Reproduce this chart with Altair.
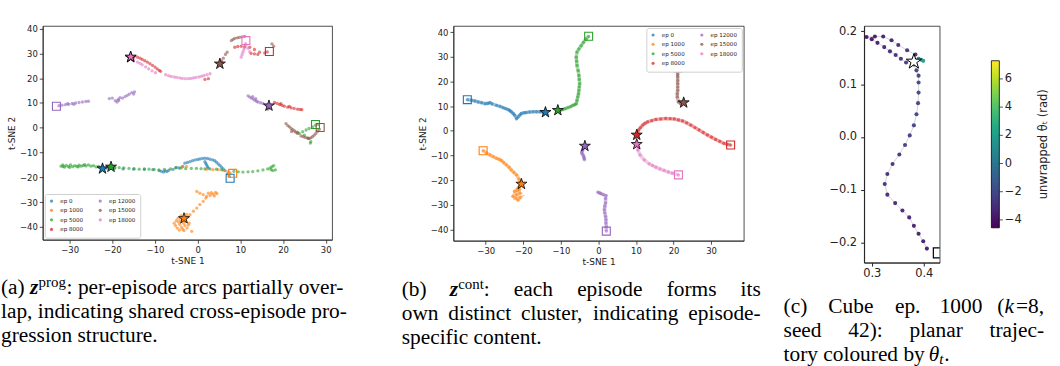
import altair as alt
import pandas as pd

# ---------------------------------------------------------------- data
EPISODES = ["ep 0", "ep 1000", "ep 5000", "ep 8000", "ep 12000", "ep 15000", "ep 18000"]

a_ep0 = [(-22.3, -16.5), (-21.3, -16.3), (-19.5, -16.4), (-17.5, -16.6), (-15.0, -16.7), (-12.5, -16.8),
         (-10.5, -16.9), (-9.0, -17.3), (-8.5, -17.6), (-8.0, -17.9), (-7.6, -17.4), (-7.2, -17.7),
         (-6.8, -17.2), (-5.8, -16.8), (-5.0, -16.0), (-4.4, -16.2), (-3.5, -15.6), (-3.0, -14.3),
         (-2.4, -14.0), (-1.8, -13.7), (-1.2, -13.3), (-0.6, -13.0), (0.0, -12.8), (0.5, -12.6),
         (1.1, -12.4), (1.7, -12.3), (2.3, -12.4), (2.9, -12.7), (3.5, -13.0), (4.0, -13.3),
         (4.4, -13.9), (4.8, -14.6), (5.2, -15.2), (5.6, -15.9), (6.0, -16.6), (6.4, -17.3),
         (7.0, -18.6), (7.4, -19.6), (1.7, -13.7), (1.9, -14.4), (2.1, -15.0), (2.3, -15.7), (2.5, -16.3)]
a_ep1000 = [(-5.5, -38.5), (-5.2, -39.5), (-4.8, -40.5), (-4.5, -38.0), (-4.2, -39.0), (-4.0, -37.2),
            (-3.8, -40.2), (-3.5, -41.0), (-3.3, -38.5), (-3.0, -39.5), (-2.8, -37.8), (-2.5, -40.5),
            (-2.3, -36.0), (-2.0, -38.5), (-4.6, -36.5), (-3.9, -35.5), (-5.0, -37.5), (-2.6, -35.0),
            (-3.2, -41.5), (-1.4, -41.8), (-4.3, -41.3), (-2.2, -39.3),
            (-1.8, -35.1), (-1.0, -33.7), (-0.2, -32.4), (0.5, -31.0), (1.3, -29.7), (1.9, -28.4),
            (2.1, -27.7), (2.9, -27.3), (3.6, -26.8), (4.2, -26.1), (4.5, -26.6), (3.9, -27.5),
            (2.5, -26.4), (1.3, -27.0), (0.5, -26.4), (-0.2, -25.7), (3.2, -26.2),
            (-3.7, -15.9), (-2.6, -15.6), (2.1, -16.7), (3.6, -16.9), (4.8, -16.9), (6.0, -17.2),
            (7.1, -17.7), (7.6, -18.2)]
a_ep5000 = [(-32.0, -15.5), (-31.6, -15.0), (-31.2, -15.9), (-30.8, -15.2), (-30.3, -15.6), (-29.8, -15.0),
            (-29.3, -15.7), (-28.8, -15.3), (-28.3, -15.6), (-27.8, -15.1), (-27.3, -15.5), (-26.8, -15.2),
            (-26.2, -15.4), (-25.6, -15.0), (-25.0, -15.5), (-24.4, -15.3), (-23.8, -15.8), (-23.2, -15.6),
            (-22.7, -16.0), (-31.5, -15.6), (-30.0, -16.0), (-28.0, -15.8), (-26.5, -14.9),
            (-20.3, -15.8), (-19.4, -16.0), (-18.4, -16.1), (-17.3, -16.2), (-16.1, -16.4), (-14.9, -16.5),
            (-13.7, -16.7), (-12.5, -16.6), (-11.4, -16.7), (-10.2, -16.8), (-9.1, -17.0), (-7.8, -16.8),
            (-6.4, -16.6), (-5.2, -16.2), (-4.0, -16.3), (-2.8, -16.5), (-1.5, -16.4), (-0.3, -16.4),
            (0.8, -16.5), (1.7, -16.6), (2.9, -16.6), (4.4, -16.7), (5.6, -16.9),
            (8.5, -17.6), (9.5, -17.8), (10.6, -17.9), (11.8, -17.8), (12.9, -17.7), (14.1, -17.4),
            (15.3, -17.0), (16.4, -16.6), (17.0, -16.2), (17.4, -15.7), (17.8, -15.3), (17.6, -17.3),
            (18.2, -17.0), (17.2, -16.9),
            (23.8, -2.3), (24.6, -1.6), (25.4, -0.9), (26.1, -0.3), (26.9, 0.4), (27.6, 1.0), (28.3, 1.4),
            (25.0, -3.0), (25.9, -4.3), (26.5, -5.6), (26.4, -6.2), (23.4, -1.8)]
a_ep8000 = [(-15.0, 28.6), (-14.1, 28.5), (-13.5, 28.1), (-13.0, 27.6), (-12.4, 27.1), (-11.8, 26.5),
            (-11.2, 25.9), (-10.6, 25.2), (-10.0, 24.5), (-9.5, 23.8), (-9.0, 23.2), (-8.7, 22.8),
            (1.7, 19.5), (2.5, 19.8),
            (8.7, 32.5), (9.4, 32.8), (10.2, 32.9), (11.0, 32.7), (12.2, 32.5), (13.3, 31.6), (14.5, 30.5),
            (15.7, 30.2), (16.3, 30.6), (12.5, 30.0), (13.3, 29.8), (14.1, 29.6),
            (18.0, 10.2), (18.6, 9.8), (19.2, 9.4), (19.8, 9.0), (20.3, 8.7), (21.1, 8.3), (21.9, 8.0),
            (22.6, 7.8), (23.4, 7.5), (24.0, 7.4), (24.4, 7.3), (19.5, 9.7), (21.5, 8.6)]
a_ep12000 = [(-32.5, 8.9), (-31.8, 9.1), (-31.0, 9.3), (-30.2, 9.5), (-29.4, 9.8), (-28.6, 10.0),
             (-27.8, 10.2), (-27.0, 10.4), (-26.2, 10.6), (-25.6, 10.7), (-30.5, 9.7), (-29.0, 9.5),
             (-20.7, 11.8), (-20.0, 12.0), (-19.3, 10.9), (-18.9, 10.4), (-18.6, 11.5), (-18.2, 12.2),
             (-17.6, 12.0), (-17.0, 12.6), (-16.5, 13.1), (-16.0, 13.6), (-15.4, 14.2), (-14.8, 14.5),
             (-15.0, 13.6), (-18.5, 11.0),
             (11.8, 12.9), (12.2, 12.4), (12.6, 12.0), (13.0, 11.6), (13.4, 11.1), (13.8, 10.7),
             (14.1, 10.4), (14.7, 10.1), (15.3, 9.8), (16.1, 9.1), (12.9, 12.6), (13.6, 11.8)]
a_ep15000 = [(5.6, 27.0), (6.0, 28.1), (6.5, 29.6), (6.9, 30.5),
             (7.9, 35.2), (8.3, 35.7), (8.7, 36.1), (9.3, 36.3), (9.8, 36.5), (10.4, 36.7), (11.0, 36.9),
             (17.4, 33.9), (17.8, 32.9), (16.4, 7.5), (16.8, 8.0),
             (20.7, 1.7), (21.1, 0.9), (21.5, 0.4), (21.9, -0.3), (22.3, -0.8), (22.7, -1.3), (23.0, -1.8),
             (23.4, -2.3), (24.2, -3.3), (24.7, -3.6), (25.2, -3.9), (25.7, -4.1), (26.1, -4.3),
             (26.5, -4.1), (26.9, -3.6), (27.3, -3.0), (27.7, -2.3), (28.1, -1.4), (28.5, -0.6), (22.0, -1.5)]
a_ep18000 = [(-15.0, 27.6), (-14.1, 26.5), (-13.5, 26.0), (-13.0, 25.4), (-12.2, 24.6), (-11.5, 23.8),
             (-10.7, 23.0), (-9.9, 22.2), (-7.5, 21.4), (-6.8, 21.0), (-6.2, 20.7), (-5.5, 20.5),
             (-4.9, 20.3), (-4.2, 20.1), (-3.6, 19.9), (-2.9, 19.8), (-2.2, 19.8), (-1.6, 19.9),
             (-1.0, 20.1), (-0.4, 20.3), (0.3, 20.5), (0.9, 20.8), (1.5, 21.1), (2.2, 21.4), (2.9, 21.8),
             (11.0, 32.5), (10.8, 31.5), (10.6, 30.5), (10.4, 29.5), (10.2, 28.5), (11.2, 34.0),
             (11.8, 32.1), (12.2, 30.7), (11.3, 33.3)]
a_points = {"ep 0": a_ep0, "ep 1000": a_ep1000, "ep 5000": a_ep5000, "ep 8000": a_ep8000,
            "ep 12000": a_ep12000, "ep 15000": a_ep15000, "ep 18000": a_ep18000}
a_star = {"ep 0": (-22.3, -16.5), "ep 1000": (-3.2, -36.6), "ep 5000": (-20.3, -15.8),
          "ep 8000": (-15.7, 28.4), "ep 12000": (16.7, 8.9), "ep 15000": (5.2, 25.8),
          "ep 18000": (-15.7, 28.6)}
a_square = {"ep 0": (7.6, -20.4), "ep 1000": (8.2, -18.4), "ep 5000": (27.6, 1.3),
            "ep 8000": (16.8, 30.8), "ep 12000": (-33.1, 8.7), "ep 15000": (28.7, 0.1),
            "ep 18000": (11.3, 35.2)}

b_ep0 = [(-34.9, 12.6), (-33.8, 12.4), (-32.9, 12.1), (-32.0, 11.7), (-31.1, 11.4), (-30.2, 11.0),
         (-29.5, 11.1), (-28.9, 11.4), (-28.3, 10.9), (-27.1, 10.3), (-26.2, 9.9), (-25.4, 9.4),
         (-24.7, 9.0), (-24.0, 8.6), (-23.6, 8.2), (-23.2, 7.7), (-22.7, 7.0), (-22.3, 6.3),
         (-21.8, 5.0), (-21.4, 5.6), (-20.9, 6.4), (-20.5, 7.0), (-19.8, 7.3), (-19.2, 7.4),
         (-18.3, 7.6), (-17.4, 7.7), (-16.5, 7.7), (-15.6, 7.7), (-14.8, 7.6), (-14.1, 7.5)]
b_ep1000 = [(-30.7, -8.1), (-29.8, -9.0), (-28.9, -9.8), (-28.0, -10.5), (-27.1, -11.2), (-26.4, -11.6),
            (-25.8, -12.1), (-25.2, -12.9), (-24.5, -13.8), (-23.8, -14.8), (-23.2, -15.9), (-22.5, -16.9),
            (-21.8, -17.9), (-21.2, -19.5), (-20.8, -20.6), (-20.5, -21.6), (-21.0, -22.5), (-21.4, -23.3),
            (-22.3, -24.6), (-21.8, -25.9), (-20.9, -25.3), (-21.6, -24.2), (-22.7, -26.6), (-21.4, -28.0),
            (-20.8, -27.0), (-22.0, -27.3), (-21.0, -23.8)]
b_ep5000 = [(-10.8, 8.3), (-10.1, 8.4), (-9.5, 8.6), (-8.8, 9.0), (-8.1, 9.4), (-7.4, 9.8), (-6.8, 10.3),
            (-6.3, 10.6), (-5.9, 11.0), (-5.7, 12.3), (-5.5, 13.7), (-5.3, 15.0), (-5.2, 16.4),
            (-5.1, 17.8), (-5.0, 19.1), (-5.1, 20.8), (-5.2, 22.4), (-5.4, 24.4), (-5.7, 26.5),
            (-5.8, 28.2), (-5.9, 29.8), (-5.7, 31.9), (-5.2, 33.2), (-4.6, 34.5), (-4.0, 35.8),
            (-3.3, 37.2), (-2.6, 38.3)]
b_ep8000 = [(10.2, -1.7), (10.7, 0.3), (11.2, 1.3), (11.8, 2.3), (12.4, 3.0), (13.1, 3.6), (14.2, 4.1),
            (15.3, 4.6), (16.6, 4.8), (17.9, 5.0), (19.1, 4.9), (20.2, 4.8), (21.3, 4.4), (22.4, 4.0),
            (23.5, 3.2), (24.6, 2.3), (25.7, 1.3), (26.8, 0.3), (27.9, -0.7), (29.0, -1.7), (30.1, -2.6),
            (31.2, -3.5), (32.3, -4.3), (33.4, -5.1), (34.3, -5.5), (35.2, -5.8)]
b_ep12000_head = [(-3.6, -6.2), (-4.0, -7.0), (-4.2, -7.8), (-4.4, -8.5), (-4.4, -9.1), (-4.1, -9.8),
                  (-3.9, -10.5), (-3.8, -11.2), (-3.7, -11.8)]
b_ep12000_tail = [(-0.2, -24.9), (0.3, -25.2), (0.7, -25.5), (1.3, -25.9), (2.0, -26.3), (1.9, -27.5),
                  (1.9, -29.3), (1.7, -30.6), (1.6, -32.0), (1.7, -33.3), (1.9, -34.7), (2.0, -36.0),
                  (2.0, -37.4), (2.1, -39.0), (2.1, -40.7)]
b_ep15000 = [(21.1, 25.5), (21.1, 23.8), (21.1, 22.8), (21.1, 21.8), (21.1, 20.4), (21.1, 19.1),
             (21.1, 17.7), (21.1, 16.4), (21.0, 15.0), (21.0, 13.7), (21.3, 11.7), (21.9, 11.0), (22.7, 11.4)]
b_ep18000 = [(10.2, -5.5), (10.5, -7.8), (11.1, -9.8), (12.2, -11.8), (13.5, -13.4), (14.4, -14.1),
             (15.3, -14.8), (16.4, -15.5), (17.5, -16.1), (18.6, -16.7), (19.7, -17.2), (21.3, -17.9)]
b_points = {("ep 0", 0): b_ep0, ("ep 1000", 0): b_ep1000, ("ep 5000", 0): b_ep5000,
            ("ep 8000", 0): b_ep8000, ("ep 12000", 0): b_ep12000_head, ("ep 12000", 1): b_ep12000_tail,
            ("ep 15000", 0): b_ep15000, ("ep 18000", 0): b_ep18000}
b_star = {"ep 0": (-14.1, 7.5), "ep 1000": (-20.5, -21.6), "ep 5000": (-10.8, 8.3),
          "ep 8000": (10.2, -1.7), "ep 12000": (-3.6, -6.2), "ep 15000": (22.7, 11.4),
          "ep 18000": (10.2, -5.5)}
b_square = {"ep 0": (-34.9, 12.6), "ep 1000": (-30.7, -8.1), "ep 5000": (-2.6, 38.3),
            "ep 8000": (35.2, -5.8), "ep 12000": (2.1, -40.7), "ep 15000": (21.1, 25.5),
            "ep 18000": (21.3, -17.9)}

c_x = [0.406, 0.399, 0.390, 0.381, 0.372, 0.359, 0.345, 0.330, 0.325, 0.330, 0.340, 0.353, 0.364,
       0.373, 0.381, 0.386, 0.389, 0.390, 0.390, 0.390, 0.386, 0.381,
       0.384, 0.368, 0.351, 0.338, 0.322, 0.306, 0.290,
       0.300, 0.311, 0.324, 0.335, 0.346, 0.356, 0.366, 0.390, 0.395, 0.399]
c_y = [-0.211, -0.197, -0.183, -0.168, -0.152, -0.139, -0.125, -0.109, -0.089, -0.070, -0.051, -0.033,
       -0.015, 0.003, 0.022, 0.043, 0.064, 0.084, 0.103, 0.116, 0.126, 0.137,
       0.156, 0.164, 0.174, 0.183, 0.190, 0.190, 0.189,
       0.185, 0.178, 0.170, 0.162, 0.155, 0.148, 0.141, 0.148, 0.146, 0.144]
c_theta = [-3.9, -3.8, -3.7, -3.6, -3.5, -3.4, -3.3, -3.2, -3.1, -3.0, -2.9, -2.8, -2.6, -2.5, -2.4,
           -2.3, -2.2, -2.1, -2.1, -2.2, -2.3, -2.5,
           -2.8, -3.0, -3.2, -3.4, -3.6, -3.8, -4.0,
           -3.9, -3.7, -3.5, -3.3, -3.1, -2.9, -2.6, 0.8, 1.6, 2.2]
c_star = (0.381, 0.1425)
c_square = (0.428, -0.219)
CB_DOMAIN = [-4.56, 7.29]
CB_TICKS = [-4, -2, 0, 2, 4, 6]

# ---------------------------------------------------------------- styles / layout
EP_COLORS = ["#1f77b4", "#ff7f0e", "#2ca02c", "#d62728", "#9467bd", "#8c564b", "#e377c2"]
COLOR_OF = dict(zip(EPISODES, EP_COLORS))
VIRIDIS = ["#440154", "#482475", "#414487", "#355f8d", "#2a788e", "#21918c",
           "#22a884", "#44bf70", "#7ad151", "#bddf26", "#fde725"]
STAR = ("M0,-1L0.2245,-0.309L0.951,-0.309L0.363,0.118L0.588,0.809L0,0.382L-0.588,0.809"
        "L-0.363,0.118L-0.951,-0.309L-0.2245,-0.309Z")
SANS = "DejaVu Sans"
SERIF = "Liberation Serif"
INK = "#222222"
CAP_SIZE = 21.5
LINE_Y = [288, 312, 336]
ONE = pd.DataFrame({"k": [1]})
C_YDOM = [-0.2375, 0.21]
CB_SPAN = [-0.1717, 0.1442]     # colorbar extent expressed in panel (c) y units

CAPTION_A = [("(a)", 0, 0, ""), ("z", 29.2, 0, "bi"), ("prog", 37.8, 0, "sup"),
             (": per-episode arcs partially over-", 66, 0, ""),
             ("lap, indicating shared cross-episode pro-", 0, 1, ""),
             ("gression structure.", 0, 2, "")]
CAPTION_B = [("(b)", 401, 0, ""), ("z", 449.2, 0, "bi"), ("cont", 457.8, 0, "sup"), (":", 483.6, 0, ""),
             ("each", 513.7, 0, ""), ("episode", 577.4, 0, ""), ("forms", 667.4, 0, ""), ("its", 762, 0, "r"),
             ("own", 401, 1, ""), ("distinct", 447.8, 1, ""), ("cluster,", 520.9, 1, ""),
             ("indicating", 593.4, 1, ""), ("episode-", 762, 1, "r"),
             ("specific content.", 401, 2, "")]
CAPTION_C = [("(c)", 783, 0, ""), ("Cube", 828, 0, ""), ("ep.", 895, 0, ""), ("1000", 940, 0, ""),
             ("(", 998, 0, ""), ("k", 1005.2, 0, "it"), ("=8,", 1045, 0, "r"),
             ("seed", 783, 1, ""), ("42):", 848.1, 1, ""), ("planar", 909.6, 1, ""), ("trajec-", 1045, 1, "r"),
             ("tory coloured by", 783, 2, ""), ("θ", 929, 2, "it"), ("t", 939.5, 2, "sub"), (".", 944.5, 2, "")]


def caption_layers(pieces, ox, oy):
    out = []
    for text, x, line, kind in pieces:
        size, style, weight, dy, align = CAP_SIZE, "normal", "normal", 0, "left"
        if kind == "bi":
            style, weight = "italic", "bold"
        elif kind == "it":
            style = "italic"
        elif kind == "sup":
            size, dy = 15, -6
        elif kind == "sub":
            size, dy, style = 15, 4, "italic"
        elif kind == "r":
            align = "right"
        out.append(
            alt.Chart(ONE).mark_text(text=text, align=align, baseline="middle", fontSize=size,
                                     font=SERIF, fontStyle=style, fontWeight=weight, color="black")
            .encode(x=alt.value(x - ox), y=alt.value(LINE_Y[line] + dy - oy))
        )
    return out


def bbox_layer(left, top, w, h, ox, oy):
    # invisible rectangle fixing each panel's footprint inside the row
    return alt.Chart(ONE).mark_rect(opacity=0).encode(
        x=alt.value(left - ox), x2=alt.value(left + w - ox),
        y=alt.value(top - oy), y2=alt.value(top + h - oy))


def tsne_axis(title, values):
    return alt.Axis(title=title, values=values, grid=False, labelFont=SANS, titleFont=SANS,
                    labelFontSize=8.5, titleFontSize=9, titleFontWeight="normal", labelColor=INK,
                    titleColor=INK, tickColor=INK, domainColor=INK, tickSize=3.5, tickWidth=0.8,
                    domainWidth=0.8, labelPadding=2, titlePadding=3)


def tsne_panel(points, stars, squares, xdom, ydom, w, h, legend_orient, origin, region, captions,
               trails=False):
    ox, oy = origin
    rows = []
    for key, pts in points.items():
        ep, seg = key if isinstance(key, tuple) else (key, 0)
        for i, (px, py) in enumerate(pts):
            rows.append({"ep": ep, "key": f"{ep}-{seg}", "i": i, "x": px, "y": py, "col": COLOR_OF[ep]})
    df = pd.DataFrame(rows)
    sdf = pd.DataFrame([{"ep": k, "x": v[0], "y": v[1], "col": COLOR_OF[k]} for k, v in stars.items()])
    qdf = pd.DataFrame([{"ep": k, "x": v[0], "y": v[1], "col": COLOR_OF[k]} for k, v in squares.items()])

    X = alt.X("x:Q", scale=alt.Scale(domain=xdom, nice=False, zero=False),
              axis=tsne_axis("t-SNE 1", [-30, -20, -10, 0, 10, 20, 30]))
    Y = alt.Y("y:Q", scale=alt.Scale(domain=ydom, nice=False, zero=False),
              axis=tsne_axis("t-SNE 2", [-40, -30, -20, -10, 0, 10, 20, 30, 40]))

    legend = alt.Legend(title=None, orient=legend_orient, columns=2, values=EPISODES, offset=2,
                        padding=4, fillColor="white", strokeColor="#d0d0d0", cornerRadius=2,
                        labelFont=SANS, labelFontSize=5.6, labelColor=INK, symbolType="circle",
                        symbolSize=10, symbolStrokeWidth=0, symbolOpacity=0.75, labelOffset=6,
                        columnPadding=14, rowPadding=2.6)
    dots = alt.Chart(df).mark_circle(size=11, opacity=0.6).encode(
        x=X, y=Y, color=alt.Color("ep:N", scale=alt.Scale(domain=EPISODES, range=EP_COLORS), legend=legend))
    sq = alt.Chart(qdf).mark_point(shape="square", filled=False, size=64, strokeWidth=1.1, opacity=1).encode(
        x=X, y=Y, stroke=alt.Stroke("col:N", scale=None))
    st = alt.Chart(sdf).mark_point(shape=STAR, filled=True, size=135, stroke="black", strokeWidth=0.8,
                                   opacity=1).encode(x=X, y=Y, fill=alt.Fill("col:N", scale=None))
    layers = [bbox_layer(region[0], 0, region[1], 366, ox, oy)]
    if trails:
        layers.append(alt.Chart(df).mark_line(strokeWidth=3.6, opacity=0.4).encode(
            x=X, y=Y, stroke=alt.Stroke("col:N", scale=None), detail="key:N", order="i:Q"))
    layers += [dots, sq, st]
    layers += caption_layers(captions, ox, oy)
    return alt.layer(*layers).properties(width=w, height=h)


panel_a = tsne_panel(a_points, a_star, a_square, [-36.3, 31.5], [-45.2, 41.1], 291, 215,
                     "bottom-left", (42, 24), (0, 395), CAPTION_A)
panel_b = tsne_panel(b_points, b_star, b_square, [-38.6, 38.7], [-44.6, 42.5], 292, 216,
                     "top-right", (453, 22), (395, 375), CAPTION_B, trails=True)

# ---- panel (c)
ox, oy = 864, 5
cdf = pd.DataFrame({"x": c_x, "y": c_y, "theta": c_theta, "i": list(range(len(c_x)))})
CX = alt.X("x:Q", scale=alt.Scale(domain=[0.2853, 0.4306], nice=False, zero=False),
           axis=alt.Axis(title=None, values=[0.3, 0.4], format=".1f", grid=False, labelFont=SANS,
                         labelFontSize=11.5, labelColor=INK, tickColor=INK, domainColor=INK,
                         tickSize=3.5, labelPadding=1))
CYS = alt.Scale(domain=C_YDOM, nice=False, zero=False)
CY = alt.Y("y:Q", scale=CYS,
           axis=alt.Axis(title=None, values=[-0.2, -0.1, 0.0, 0.1, 0.2], format=".1f", grid=False,
                         labelFont=SANS, labelFontSize=11.5, labelColor=INK, tickColor=INK,
                         domainColor=INK, tickSize=3.5, labelPadding=4))
c_line = alt.Chart(cdf).mark_line(color="#d4d4d4", strokeWidth=1).encode(x=CX, y=CY, order="i:Q")
c_dots = alt.Chart(cdf).mark_circle(size=17, opacity=0.95).encode(
    x=CX, y=CY, color=alt.Color("theta:Q", scale=alt.Scale(scheme="viridis", domain=CB_DOMAIN), legend=None))
c_sq = alt.Chart(pd.DataFrame({"x": [c_square[0]], "y": [c_square[1]]})).mark_point(
    shape="square", filled=False, size=100, stroke="black", strokeWidth=1.2, opacity=1, clip=True
).encode(x=CX, y=CY)
c_st = alt.Chart(pd.DataFrame({"x": [c_star[0]], "y": [c_star[1]]})).mark_point(
    shape=STAR, filled=True, fill="white", size=260, stroke="black", strokeWidth=1, opacity=1
).encode(x=CX, y=CY)


def cb_to_y(v):
    # place a colorbar value inside the panel-(c) y range occupied by the colorbar
    f = (v - CB_DOMAIN[0]) / (CB_DOMAIN[1] - CB_DOMAIN[0])
    return CB_SPAN[0] + f * (CB_SPAN[1] - CB_SPAN[0])


cb_fill = alt.Gradient(gradient="linear", x1=0, x2=0, y1=1, y2=0,
                       stops=[alt.GradientStop(color=c, offset=i / (len(VIRIDIS) - 1))
                              for i, c in enumerate(VIRIDIS)])
cb_df = pd.DataFrame({"lo": [cb_to_y(CB_DOMAIN[0])], "hi": [cb_to_y(CB_DOMAIN[1])]})
cb_bar = alt.Chart(cb_df).mark_rect(fill=cb_fill, stroke="black", strokeWidth=0.8).encode(
    x=alt.value(128), x2=alt.value(136), y=alt.Y("lo:Q", scale=CYS), y2="hi:Q")
tick_df = pd.DataFrame({"y": [cb_to_y(v) for v in CB_TICKS],
                        "label": [f"{v}".replace("-", "\u2212") for v in CB_TICKS]})
cb_ticks = alt.Chart(tick_df).mark_rule(color=INK, strokeWidth=0.8).encode(
    x=alt.value(136), x2=alt.value(139.5), y=alt.Y("y:Q", scale=CYS))
cb_labels = alt.Chart(tick_df).mark_text(align="left", baseline="middle", font=SANS, fontSize=11.5,
                                         color=INK).encode(
    x=alt.value(141.5), y=alt.Y("y:Q", scale=CYS), text="label:N")
cb_title = alt.Chart(ONE).mark_text(text="unwrapped θₜ (rad)", angle=270, align="center",
                                    baseline="middle", font=SANS, fontSize=11.5, color=INK).encode(
    x=alt.value(181), y=alt.value(119))

panel_c = alt.layer(bbox_layer(770, 0, 290, 366, ox, oy), c_line, c_dots, c_sq, c_st,
                    cb_bar, cb_ticks, cb_labels, cb_title,
                    *caption_layers(CAPTION_C, ox, oy)).properties(width=76, height=238)

chart = alt.hconcat(panel_a, panel_b, panel_c, spacing=0, padding=0).resolve_scale(
    color="independent").configure_view(stroke=INK, strokeWidth=0.8)

chart.save("out.html", embed_options={"renderer": "svg", "actions": False})
